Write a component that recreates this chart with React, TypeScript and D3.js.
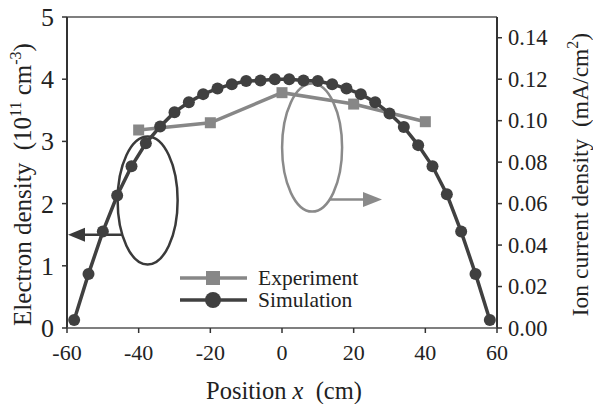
import React from 'react';
import * as d3 from 'd3';

// simulation profile, electron density (10^11 cm^-3)
const simX = [-58, -54, -50, -46, -42, -38, -34, -30, -26, -22, -18, -14, -10, -6, -2,
  2, 6, 10, 14, 18, 22, 26, 30, 34, 38, 42, 46, 50, 54, 58];
const simY = [0.13, 0.87, 1.55, 2.13, 2.6, 2.97, 3.24, 3.47, 3.63, 3.76, 3.85, 3.92, 3.97, 3.98, 4.0,
  4.0, 3.98, 3.97, 3.92, 3.85, 3.76, 3.63, 3.45, 3.23, 2.94, 2.6, 2.15, 1.55, 0.87, 0.13];

// experiment, ion current density (mA/cm2), right axis
const expX = [-40, -20, 0, 20, 40];
const expY = [0.0955, 0.099, 0.1135, 0.108, 0.0995];

const xTicks = [-60, -40, -20, 0, 20, 40, 60];
const leftTicks = [0, 1, 2, 3, 4, 5];
const rightTicks = [0, 0.02, 0.04, 0.06, 0.08, 0.1, 0.12, 0.14];

const W = 593;
const H = 404;
const m = { left: 67, right: 96, top: 17, bottom: 76 };

const SIM = '#404040';
const EXP = '#878787';
const AXIS = '#333';
const FONT = '"Liberation Serif", "Times New Roman", serif';

export default function App() {
  const x = d3.scaleLinear().domain([-60, 60]).range([m.left, W - m.right]);
  const yL = d3.scaleLinear().domain([0, 5]).range([H - m.bottom, m.top]);
  const yR = d3.scaleLinear().domain([0, 0.15]).range([H - m.bottom, m.top]);

  const simPts: [number, number][] = simX.map((v, i) => [x(v), yL(simY[i])]);
  const expPts: [number, number][] = expX.map((v, i) => [x(v), yR(expY[i])]);
  const line = d3.line();

  const x0 = m.left, x1 = W - m.right, y0 = H - m.bottom, y1 = m.top;

  // annotation ellipses (data coords)
  const lCx = x(-37.5), lCy = yL(2.05);
  const rCx = x(8.4), rCy = yL(2.9);
  const rx = 30, ry = 64;
  const lArrowY = yL(1.5);
  const rArrowY = yR(0.062);
  const lEdge = lCx - rx * Math.sqrt(1 - ((lArrowY - lCy) / ry) ** 2);
  const rEdge = rCx + rx * Math.sqrt(1 - ((rArrowY - rCy) / ry) ** 2);
  const fmtR = d3.format('.2f');

  return (
    <svg width={W} height={H} style={{ position: 'absolute', left: 0, top: 0, background: '#fff' }}
      fontFamily={FONT}>
      {/* frame */}
      <line x1={x0} x2={x1} y1={y1} y2={y1} stroke="#555" strokeWidth={1.5} />
      <line x1={x0} x2={x0} y1={y1} y2={y0} stroke={AXIS} strokeWidth={2} />
      <line x1={x1} x2={x1} y1={y1} y2={y0} stroke={AXIS} strokeWidth={2} />
      <line x1={x0} x2={x1} y1={y0} y2={y0} stroke="#555" strokeWidth={1.5} />

      {/* left axis */}
      {leftTicks.map(t => (
        <g key={'l' + t}>
          <line x1={x0 - 5} x2={x0} y1={yL(t)} y2={yL(t)} stroke={AXIS} strokeWidth={1.5} />
          <text x={x0 - 13} y={yL(t) + 9} fontSize={26} textAnchor="end" fill="#222">{t}</text>
        </g>
      ))}
      {/* right axis */}
      {rightTicks.map(t => (
        <g key={'r' + t}>
          <line x1={x1} x2={x1 + 5} y1={yR(t)} y2={yR(t)} stroke={AXIS} strokeWidth={1.5} />
          <text x={x1 + 11} y={yR(t) + 7.5} fontSize={22.5} fill="#222">{fmtR(t)}</text>
        </g>
      ))}
      {/* bottom axis */}
      {xTicks.map(t => (
        <g key={'x' + t}>
          <line x1={x(t)} x2={x(t)} y1={y0} y2={y0 + 5} stroke={AXIS} strokeWidth={1.5} />
          <text x={x(t)} y={y0 + 32} fontSize={22} textAnchor="middle" fill="#222">{String(t)}</text>
        </g>
      ))}

      {/* axis titles */}
      <text transform={`translate(31,${(y0 + y1) / 2 + 12}) rotate(-90)`} textAnchor="middle"
        fontSize={25} fill="#222" style={{ whiteSpace: 'pre' }}>
        Electron density  (10<tspan dy={-10} fontSize={16}>11</tspan><tspan dy={10}> cm</tspan>
        <tspan dy={-10} fontSize={16}>-3</tspan><tspan dy={10}>)</tspan>
      </text>
      <text transform={`translate(588,${(y0 + y1) / 2 + 2}) rotate(-90)`} textAnchor="middle"
        fontSize={23.5} fill="#222" style={{ whiteSpace: 'pre' }}>
        Ion current density  (mA/cm<tspan dy={-10} fontSize={16}>2</tspan><tspan dy={10}>)</tspan>
      </text>
      <text x={284} y={399} textAnchor="middle" fontSize={24.5} fill="#222" style={{ whiteSpace: 'pre' }}>
        Position <tspan fontStyle="italic">x</tspan>  (cm)
      </text>

      {/* annotations */}
      <ellipse cx={lCx} cy={lCy} rx={rx} ry={ry} fill="none" stroke="#3a3a3a" strokeWidth={2.5} />
      <line x1={lEdge} x2={x0 + 16} y1={lArrowY} y2={lArrowY} stroke="#3a3a3a" strokeWidth={2.5} />
      <path d={`M${x0 + 1},${lArrowY} L${x0 + 18},${lArrowY - 7} L${x0 + 18},${lArrowY + 7} Z`} fill="#3a3a3a" />
      <ellipse cx={rCx} cy={rCy} rx={rx} ry={ry} fill="none" stroke="#8a8a8a" strokeWidth={2.5} />
      <line x1={rEdge} x2={365} y1={rArrowY} y2={rArrowY} stroke="#8a8a8a" strokeWidth={2.5} />
      <path d={`M382,${rArrowY} L363,${rArrowY - 7.5} L363,${rArrowY + 7.5} Z`} fill="#8a8a8a" />

      {/* experiment */}
      <path d={line(expPts) ?? ''} fill="none" stroke={EXP} strokeWidth={3.5} />
      {expPts.map((p, i) => (
        <rect key={'e' + i} x={p[0] - 5.5} y={p[1] - 5.5} width={11} height={11} fill={EXP} />
      ))}
      {/* simulation */}
      <path d={line(simPts) ?? ''} fill="none" stroke={SIM} strokeWidth={3.5} />
      {simPts.map((p, i) => (
        <circle key={'s' + i} cx={p[0]} cy={p[1]} r={6} fill={SIM} />
      ))}

      {/* legend */}
      <line x1={180} x2={247} y1={278} y2={278} stroke={EXP} strokeWidth={3.5} />
      <rect x={206} y={271} width={14} height={14} fill={EXP} />
      <text x={258} y={285} fontSize={21.5} fill="#222">Experiment</text>
      <line x1={180} x2={247} y1={300} y2={300} stroke={SIM} strokeWidth={3.5} />
      <circle cx={213} cy={300} r={8} fill={SIM} />
      <text x={258} y={307} fontSize={21.5} fill="#222">Simulation</text>
    </svg>
  );
}
